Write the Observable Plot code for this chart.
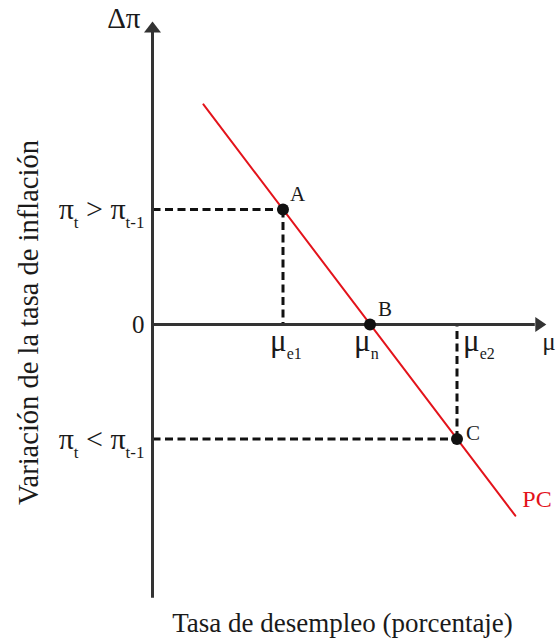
<!DOCTYPE html>
<html>
<head>
<meta charset="utf-8">
<script src="https://cdn.jsdelivr.net/npm/d3@7"></script>
<script src="https://cdn.jsdelivr.net/npm/@observablehq/plot@0.6"></script>
<style>
  html, body { margin: 0; padding: 0; background: #fff; }
  #chart svg { display: block; }
</style>
</head>
<body>
<div id="chart"></div>
<script>
// ---- Data ----
const pointNames = ["A", "B", "C"];
const pointU = [3, 5, 7];              // unemployment (μe1, μn, μe2)
const pointDp = [1.95, 0, -1.94];      // change in inflation Δπ
const pcU = [1.17, 8.34];              // Phillips curve end points
const pcDp = [3.73, -3.24];
const uTickLabels = ["μ_{e1}", "μ_{n}", "μ_{e2}"];
const uTickValues = [3, 5, 7];
const dpTickLabels = ["π_{t} > π_{t-1}", "0", "π_{t} < π_{t-1}"];
const dpTickValues = [1.95, 0, -1.94];
const uAxisExtent = [0, 8.8];
const dpAxisExtent = [-4.64, 4.95];
const xAxisName = "μ";
const yAxisName = "Δπ";
const curveName = "PC";
const yTitle = "Variación de la tasa de inflación";
const xTitle = "Tasa de desempleo (porcentaje)";

// ---- Tables built from the arrays ----
const pts = pointNames.map((n, i) => ({name: n, u: pointU[i], dp: pointDp[i]}));
const pc = pcU.map((u, i) => ({u, dp: pcDp[i]}));
const uTicks = uTickLabels.map((l, i) => ({label: l, u: uTickValues[i]}));
const dpTicks = dpTickLabels.map((l, i) => ({label: l, dp: dpTickValues[i]}));
const hDash = pts.filter(p => p.name !== "B").map(p => ({x1: uAxisExtent[0], x2: p.u, y1: p.dp, y2: p.dp}));
const vDash = pts.filter(p => p.name !== "B").map(p => ({x1: p.u, x2: p.u, y1: p.dp, y2: 0}));

const FONT = "'Liberation Serif', 'Times New Roman', serif";
const AXIS = "#333";
const INK = "#1a1a1a";
const RED = "#e3131b";

// filled arrowheads as custom dot symbols
const arrowUp = {draw(c) { c.moveTo(-8.5, 5); c.lineTo(0, -6); c.lineTo(8.5, 5); c.closePath(); }};
const arrowRight = {draw(c) { c.moveTo(-5, -7.5); c.lineTo(6, 0); c.lineTo(-5, 7.5); c.closePath(); }};

const plot = Plot.plot({
  width: 558,
  height: 638,
  margin: 0,
  style: {fontFamily: FONT, background: "#fff", color: INK},
  x: {domain: [0, 9], range: [152, 152 + 9 * 43.5], axis: null},
  y: {domain: [0, 5], range: [324, 324 - 5 * 59], axis: null},
  marks: [
    // dashed guides
    Plot.link(hDash, {x1: "x1", x2: "x2", y1: "y1", y2: "y2", stroke: "#111", strokeWidth: 3, strokeDasharray: "8,4.5"}),
    Plot.link(vDash, {x1: "x1", x2: "x2", y1: "y1", y2: "y2", stroke: "#111", strokeWidth: 3, strokeDasharray: "8,4.5"}),
    // axes
    Plot.ruleX([uAxisExtent[0]], {y1: dpAxisExtent[0], y2: dpAxisExtent[1], stroke: AXIS, strokeWidth: 3}),
    Plot.ruleY([0], {x1: uAxisExtent[0], x2: uAxisExtent[1], stroke: AXIS, strokeWidth: 3}),
    Plot.dot([{u: uAxisExtent[0], dp: dpAxisExtent[1]}], {x: "u", y: "dp", symbol: arrowUp, fill: AXIS, stroke: "none", dy: -5}),
    Plot.dot([{u: uAxisExtent[1], dp: 0}], {x: "u", y: "dp", symbol: arrowRight, fill: AXIS, stroke: "none", dx: 5}),
    // Phillips curve
    Plot.line(pc, {x: "u", y: "dp", stroke: RED, strokeWidth: 2}),
    Plot.text([pc[pc.length - 1]], {x: "u", y: "dp", text: () => curveName, fill: RED, fontSize: 24, textAnchor: "start", dx: 7, dy: -16}),
    // points
    Plot.dot(pts, {x: "u", y: "dp", r: 6, fill: "#111", stroke: "none"}),
    Plot.text(pts, {x: "u", y: "dp", text: "name", fontSize: 21, textAnchor: "start", className: "ptlabel"}),
    // tick labels
    Plot.text(uTicks, {x: "u", y: () => 0, text: "label", fontSize: 31, textAnchor: "start", dy: 17, className: "ulabel"}),
    Plot.text(dpTicks, {x: () => uAxisExtent[0], y: "dp", text: "label", fontSize: d => d.label === "0" ? 25 : 30, textAnchor: "end", dx: -8}),
    // axis names
    Plot.text([yAxisName], {x: () => uAxisExtent[0], y: () => dpAxisExtent[1], text: d => d, fontSize: 29, textAnchor: "end", dx: -12, dy: -14}),
    Plot.text([xAxisName], {x: () => uAxisExtent[1], y: () => 0, text: d => d, fontSize: 25, textAnchor: "start", dx: 7, dy: 17}),
    // titles
    Plot.text([yTitle], {frameAnchor: "left", text: d => d, fontSize: 28.5, rotate: -90, textAnchor: "middle", dx: 28, dy: 3}),
    Plot.text([xTitle], {frameAnchor: "bottom", text: d => d, fontSize: 27, textAnchor: "middle", dx: 63, dy: -7})
  ]
});

// per-label offsets (styles), applied after render
const pointLabelOffsets = {A: [7, -15], B: [8, -15], C: [9, -6]};
const uLabelOffsets = {"μ_{e1}": [-13, 0], "μ_{n}": [-16, 0], "μ_{e2}": [6, 0]};
function shift(sel, offsets) {
  d3.select(plot).selectAll(sel + " text").each(function () {
    const o = offsets[this.textContent];
    if (!o) return;
    const tr = this.getAttribute("transform") || "";
    this.setAttribute("transform", tr + ` translate(${o[0]},${o[1]})`);
  });
}
shift(".ptlabel", pointLabelOffsets);
shift(".ulabel", uLabelOffsets);

// subscripts: "_{...}" becomes a lowered, smaller tspan
d3.select(plot).selectAll("text").each(function () {
  const s = this.textContent;
  if (!s.includes("_{")) return;
  const isPi = s.startsWith("π");
  const sub = isPi ? 17 : 16, drop = isPi ? 9 : 8;
  const parts = s.split(/(_\{[^}]*\})/).filter(p => p.length);
  while (this.firstChild) this.removeChild(this.firstChild);
  let lowered = false;
  for (const p of parts) {
    const ts = document.createElementNS("http://www.w3.org/2000/svg", "tspan");
    if (p.startsWith("_{")) {
      ts.textContent = p.slice(2, -1);
      ts.setAttribute("font-size", sub);
      ts.setAttribute("dy", drop);
      lowered = true;
    } else {
      ts.textContent = p;
      if (lowered) { ts.setAttribute("dy", -drop); lowered = false; }
    }
    this.appendChild(ts);
  }
});

document.getElementById("chart").appendChild(plot);
</script>
</body>
</html>
